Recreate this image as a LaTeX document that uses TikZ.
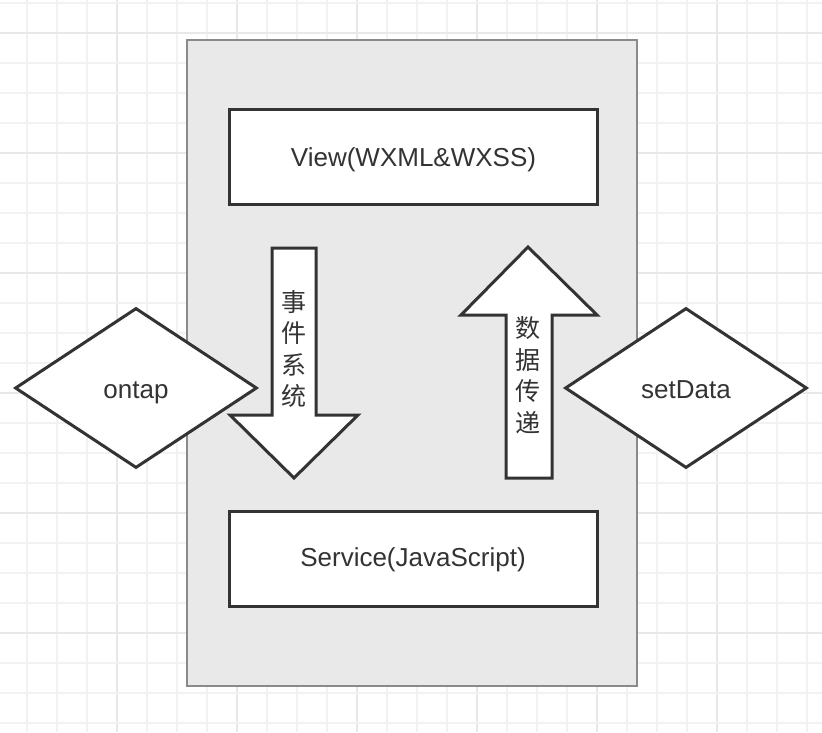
\documentclass[tikz,border=0pt]{standalone}
\usepackage{fontspec}
\setmainfont{Liberation Sans}
\newfontfamily\cjk{Noto Sans CJK SC}
\usetikzlibrary{shapes.geometric}
\definecolor{gridminor}{HTML}{F2F2F2}
\definecolor{gridmajor}{HTML}{E8E8E8}
\definecolor{panelfill}{HTML}{E9E9E9}
\definecolor{paneldraw}{HTML}{8A8A8A}
\definecolor{ink}{HTML}{333333}
\begin{document}
\begin{tikzpicture}[x=1pt,y=-1pt,
  gridline/.style={draw=gridminor,line width=1.5pt},
  gridmaj/.style={draw=gridmajor,line width=1.8pt},
  panel/.style={draw=paneldraw,fill=panelfill,line width=2.6pt,rectangle,inner sep=0pt},
  layerbox/.style={draw=ink,fill=white,line width=3pt,rectangle,inner sep=0pt,minimum width=368pt,minimum height=95pt},
  decision/.style={diamond,draw=ink,fill=white,line width=3pt,inner sep=0pt,minimum width=242pt,minimum height=160pt},
  txt/.style={anchor=base,inner sep=0pt,text=ink,font=\fontsize{26}{30}\selectfont},
  bigarrow/.style={draw=ink,fill=white,line width=3pt,line join=miter},
  vlabel/.style={align=center,inner sep=0pt,text=ink,font=\cjk\fontsize{25}{31.5}\selectfont}
]
\useasboundingbox (0,0) rectangle (822,732);
% grid
\foreach \i in {0,...,26}{
  \pgfmathtruncatemacro\gx{27+30*\i}
  \pgfmathtruncatemacro\m{mod(\i,4)==3 ? 1 : 0}
  \ifnum\m=1 \draw[gridmaj] (\gx,0) -- (\gx,732); \else \draw[gridline] (\gx,0) -- (\gx,732); \fi
}
\foreach \j in {0,...,24}{
  \pgfmathtruncatemacro\gy{3+30*\j}
  \pgfmathtruncatemacro\m{mod(\j,4)==1 ? 1 : 0}
  \ifnum\m=1 \draw[gridmaj] (0,\gy) -- (822,\gy); \else \draw[gridline] (0,\gy) -- (822,\gy); \fi
}
% panel
\node[panel,minimum width=450pt,minimum height=646pt] (panel) at (412,363) {};
% layers
\node[layerbox] (view) at (413,156.5) {};
\node[txt] (viewtxt) at (413.5,166) {View(WXML\&WXSS)};
\node[layerbox] (service) at (413,558.5) {};
\node[txt] (servicetxt) at (413,566) {Service(JavaScript)};
% diamonds
\node[decision] (ontap) at (136,388) {};
\node[txt] (ontaptxt) at (136,398) {ontap};
\node[decision] (setdata) at (686,388) {};
\node[txt] (setdatatxt) at (686,398) {setData};
% down arrow (event system)
\draw[bigarrow] (272,248) -- (316,248) -- (316,415) -- (358,415) -- (294,478) -- (230,415) -- (272,415) -- cycle;
\node[vlabel] (event) at (294,349) {事\\件\\系\\统};
% up arrow (data transfer)
\draw[bigarrow] (506,478) -- (552,478) -- (552,315) -- (597,315) -- (528,247) -- (461,315) -- (506,315) -- cycle;
\node[vlabel] (data) at (528,375) {数\\据\\传\\递};
\end{tikzpicture}
\end{document}
